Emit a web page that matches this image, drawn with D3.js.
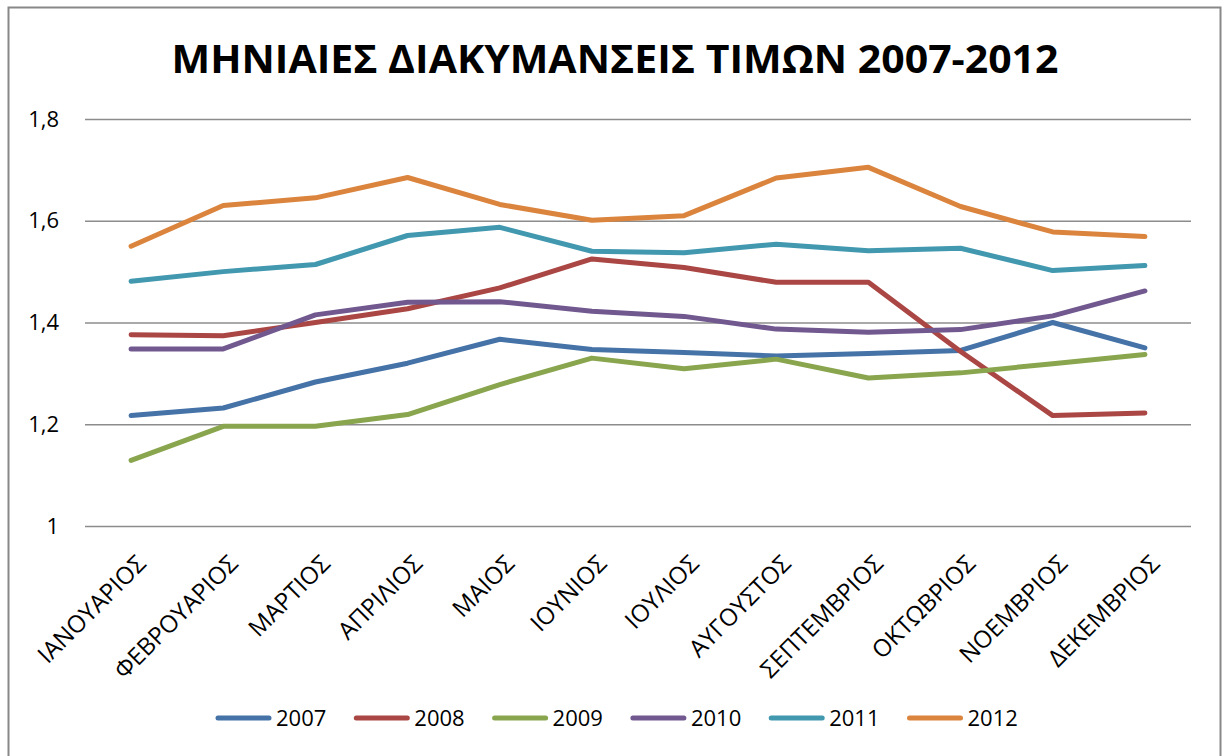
<!DOCTYPE html>
<html>
<head>
<meta charset="utf-8">
<title>ΜΗΝΙΑΙΕΣ ΔΙΑΚΥΜΑΝΣΕΙΣ ΤΙΜΩΝ 2007-2012</title>
<script src="https://d3js.org/d3.v7.min.js"></script>
<style>
  body { margin: 0; background: #fff; }
  text { font-family: "Open Sans", "Noto Sans", sans-serif; fill: #000; }
</style>
</head>
<body>
<div id="chart"></div>
<script>
// months (categories)
const months = ["ΙΑΝΟΥΑΡΙΟΣ", "ΦΕΒΡΟΥΑΡΙΟΣ", "ΜΑΡΤΙΟΣ", "ΑΠΡΙΛΙΟΣ", "ΜΑΙΟΣ", "ΙΟΥΝΙΟΣ",
                "ΙΟΥΛΙΟΣ", "ΑΥΓΟΥΣΤΟΣ", "ΣΕΠΤΕΜΒΡΙΟΣ", "ΟΚΤΩΒΡΙΟΣ", "ΝΟΕΜΒΡΙΟΣ", "ΔΕΚΕΜΒΡΙΟΣ"];

// values per year
const y2007 = [1.217, 1.232, 1.283, 1.320, 1.367, 1.347, 1.341, 1.334, 1.339, 1.345, 1.400, 1.350];
const y2008 = [1.376, 1.374, 1.400, 1.427, 1.468, 1.525, 1.508, 1.479, 1.479, 1.343, 1.217, 1.222];
const y2009 = [1.129, 1.196, 1.196, 1.219, 1.278, 1.330, 1.309, 1.328, 1.291, 1.301, 1.319, 1.337];
const y2010 = [1.348, 1.348, 1.415, 1.440, 1.441, 1.422, 1.412, 1.387, 1.381, 1.386, 1.413, 1.462];
const y2011 = [1.481, 1.500, 1.514, 1.571, 1.587, 1.540, 1.537, 1.554, 1.541, 1.546, 1.502, 1.512];
const y2012 = [1.550, 1.630, 1.645, 1.685, 1.632, 1.601, 1.610, 1.684, 1.705, 1.628, 1.578, 1.569];

const years = ["2007", "2008", "2009", "2010", "2011", "2012"];
const yTicks = [1, 1.2, 1.4, 1.6, 1.8];
const colors = ["#4572A7", "#AA4643", "#89A54E", "#71588F", "#4198AF", "#DB843D"];

const series = [y2007, y2008, y2009, y2010, y2011, y2012].map((vals, i) => ({
  name: years[i],
  color: colors[i],
  values: vals.map((v, j) => ({ month: months[j], value: v }))
}));

const width = 1222, height = 756;
const plot = { left: 85, right: 1191, top: 119, bottom: 526 };

const svg = d3.select("#chart").append("svg")
  .attr("width", width)
  .attr("height", height);

// outer frame
svg.append("rect")
  .attr("x", 8.5).attr("y", 7.5)
  .attr("width", 1212).attr("height", 770)
  .attr("fill", "#fff")
  .attr("stroke", "#888")
  .attr("stroke-width", 2);

const x = d3.scalePoint()
  .domain(months)
  .range([plot.left, plot.right])
  .padding(0.5);

const y = d3.scaleLinear()
  .domain([1, 1.8])
  .range([plot.bottom, plot.top]);

// title
svg.append("text")
  .attr("x", 615)
  .attr("y", 73)
  .attr("text-anchor", "middle")
  .attr("textLength", 887)
  .attr("lengthAdjust", "spacingAndGlyphs")
  .style("font-size", "40px")
  .style("font-weight", "bold")
  .text("ΜΗΝΙΑΙΕΣ ΔΙΑΚΥΜΑΝΣΕΙΣ ΤΙΜΩΝ 2007-2012");

// gridlines + y labels
const yAxis = d3.axisLeft(y)
  .tickValues(yTicks)
  .tickSize(-(plot.right - plot.left))
  .tickPadding(26)
  .tickFormat(d => d3.format("~g")(d).replace(".", ","));

svg.append("g")
  .attr("transform", `translate(${plot.left},0)`)
  .call(yAxis)
  .call(g => g.select(".domain").remove())
  .call(g => g.selectAll(".tick line").attr("stroke", "#8c8c8c").attr("stroke-width", 1.5))
  .call(g => g.selectAll(".tick text")
    .style("font-size", "22px")
    .style("font-family", "'Open Sans', sans-serif")
    .attr("fill", "#000"));

// x labels (rotated)
svg.append("g")
  .selectAll("text")
  .data(months)
  .join("text")
  .attr("transform", d => `translate(${x(d) + 4},553) rotate(-45)`)
  .attr("text-anchor", "end")
  .attr("dy", "0.72em")
  .style("font-size", "24px")
  .text(d => d);

// lines
const line = d3.line()
  .x(d => x(d.month))
  .y(d => y(d.value));

svg.append("g")
  .selectAll("path")
  .data(series)
  .join("path")
  .attr("d", d => line(d.values))
  .attr("fill", "none")
  .attr("stroke", d => d.color)
  .attr("stroke-width", 5)
  .attr("stroke-linejoin", "round")
  .attr("stroke-linecap", "round");

// legend
const legend = svg.append("g")
  .attr("transform", "translate(218,718)");

const item = legend.selectAll("g")
  .data(series)
  .join("g")
  .attr("transform", (d, i) => `translate(${i * 138.3},0)`);

item.append("line")
  .attr("x1", 0).attr("x2", 51)
  .attr("y1", 0).attr("y2", 0)
  .attr("stroke", d => d.color)
  .attr("stroke-width", 5)
  .attr("stroke-linecap", "round");

item.append("text")
  .attr("x", 58)
  .attr("y", 8)
  .style("font-size", "22px")
  .text(d => d.name);
</script>
</body>
</html>
